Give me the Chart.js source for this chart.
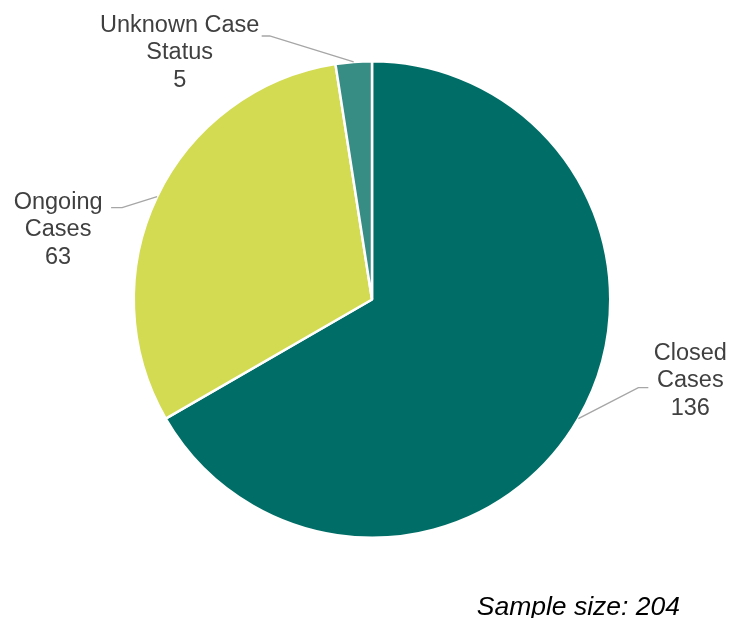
<!DOCTYPE html>
<html>
<head>
<meta charset="utf-8">
<script src="https://cdn.jsdelivr.net/npm/chart.js@4/dist/chart.umd.min.js"></script>
<style>
  html, body { margin: 0; padding: 0; background: #ffffff; }
  #wrap { width: 731px; height: 618px; }
</style>
</head>
<body>
<div id="wrap"><canvas id="chart" width="731" height="618"></canvas></div>
<script>
// Case status counts
const categories = ['Closed Cases', 'Ongoing Cases', 'Unknown Case Status'];
const labelLines = [['Closed', 'Cases'], ['Ongoing', 'Cases'], ['Unknown Case', 'Status']];
const caseCounts = [136, 63, 5];
const sampleSize = 204;
const sliceColors = ['#006E66', '#D2DB52', '#378C84'];

// Callout placement for each slice: elbow, line end and text centre,
// measured from the point where the leader leaves the slice edge.
const calloutLayout = [
  { elbow: [60, -31], end: [70, -31], text: [112, -38] },
  { elbow: [-35, 11], end: [-46, 11], text: [-99, 33] },
  { elbow: [-84, -26], end: [-92, -26], text: [-174, -9] }
];

const calloutPlugin = {
  id: 'callouts',
  afterDatasetsDraw(chart) {
    const ctx = chart.ctx;
    const meta = chart.getDatasetMeta(0);
    const values = chart.data.datasets[0].data;
    ctx.save();
    meta.data.forEach((arc, i) => {
      const p = arc.getProps(['x', 'y', 'startAngle', 'endAngle', 'outerRadius'], true);
      const mid = (p.startAngle + p.endAngle) / 2;
      const ax = p.x + Math.cos(mid) * p.outerRadius;
      const ay = p.y + Math.sin(mid) * p.outerRadius;
      const lay = calloutLayout[i];
      ctx.strokeStyle = '#A6A6A6';
      ctx.lineWidth = 1.4;
      ctx.beginPath();
      ctx.moveTo(ax, ay);
      ctx.lineTo(ax + lay.elbow[0], ay + lay.elbow[1]);
      ctx.lineTo(ax + lay.end[0], ay + lay.end[1]);
      ctx.stroke();

      const lines = labelLines[i].concat([String(values[i])]);
      const lh = 27.5;
      const cx = ax + lay.text[0];
      const cy = ay + lay.text[1];
      ctx.fillStyle = '#404040';
      ctx.font = '23.5px "Liberation Sans", Arial, sans-serif';
      ctx.textAlign = 'center';
      ctx.textBaseline = 'middle';
      lines.forEach((t, k) => {
        ctx.fillText(t, cx, cy + (k - (lines.length - 1) / 2) * lh);
      });
    });
    ctx.restore();
  }
};

new Chart(document.getElementById('chart'), {
  type: 'pie',
  data: {
    labels: categories,
    datasets: [{
      data: caseCounts,
      backgroundColor: sliceColors,
      borderColor: '#ffffff',
      borderWidth: 2.5,
      hoverOffset: 0
    }]
  },
  options: {
    responsive: false,
    animation: false,
    devicePixelRatio: 1,
    layout: { padding: { top: 60, bottom: 0, left: 64, right: 51 } },
    plugins: {
      legend: { display: false },
      tooltip: { enabled: false },
      title: {
        display: true,
        text: 'Sample size: ' + sampleSize,
        position: 'bottom',
        align: 'end',
        color: '#000000',
        font: { family: '"Liberation Sans", Arial, sans-serif', size: 26.5, style: 'italic', weight: 'normal', lineHeight: 0.8 },
        padding: { top: 57.8, bottom: 0 }
      }
    }
  },
  plugins: [calloutPlugin]
});
</script>
</body>
</html>
